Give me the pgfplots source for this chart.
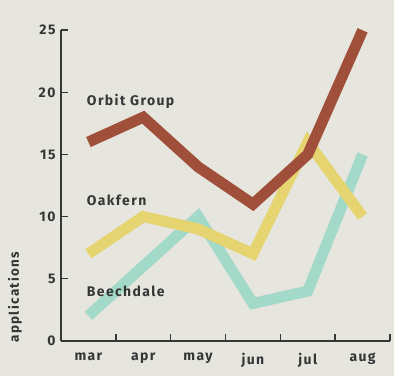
\documentclass[border=0pt]{standalone}
\usepackage{pgfplots}
\pgfplotsset{compat=1.18}
\usepackage{fontspec}
\setmainfont{Fira Sans}[LetterSpace=10]
\definecolor{bgc}{HTML}{E6E6DF}
\definecolor{txt}{HTML}{363636}
\definecolor{orbit}{HTML}{A0503A}
\definecolor{oak}{HTML}{E5D46F}
\definecolor{beech}{HTML}{A3D9C8}
\begin{document}
\begin{tikzpicture}
\fill[bgc] (-61bp,-35.3bp) rectangle (333bp,340.7bp);
\begin{axis}[
  name=ax,
  scale only axis,
  width=329bp, height=310.4bp,
  xmin=-0.5, xmax=5.5, ymin=0, ymax=25,
  clip=false,
  axis lines=left,
  axis line style={-, line width=2bp, color=txt},
  xtick={0,1,2,3,4,5},
  xticklabels={mar,apr,may,jun,jul,aug},
  minor xtick={0.5,1.5,2.5,3.5,4.5,5.5},
  ytick={0,5,10,15,20,25},
  major x tick style={draw=none},
  tick style={line width=1.6bp, color=txt},
  tick align=inside,
  major tick length=7bp,
  minor tick length=7bp,
  xticklabel style={font=\fontsize{14}{14}\selectfont\bfseries, text=txt, yshift=-9bp},
  yticklabel style={font=\fontsize{14}{14}\selectfont\bfseries, text=txt, xshift=-2bp},
  /pgf/number format/assume math mode=true,
  line join=miter, line cap=butt,
]
\addplot[beech, line width=11bp] coordinates {(0,2) (1,6) (2,10) (3,3) (4,4) (5,15)};
\addplot[oak, line width=11bp] coordinates {(0,7) (1,10) (2,9) (3,7) (4,16) (5,10)};
\addplot[orbit, line width=11bp] coordinates {(0,16) (1,18) (2,14) (3,11) (4,15) (5,25)};
\node[anchor=west, font=\fontsize{14}{14}\selectfont\bfseries, text=txt, inner sep=0pt] at (axis cs:-0.03,19.3) {Orbit Group};
\node[anchor=west, font=\fontsize{14}{14}\selectfont\bfseries, text=txt, inner sep=0pt] at (axis cs:-0.03,11.3) {Oakfern};
\node[anchor=west, font=\fontsize{14}{14}\selectfont\bfseries, text=txt, inner sep=0pt] at (axis cs:-0.03,4.0) {Beechdale};
\end{axis}
\node[rotate=90, anchor=west, font=\fontsize{13.5}{13.5}\selectfont\bfseries, text=txt, inner sep=0pt] at (-46bp,-2bp) {applications};
\pgfresetboundingbox
\path[use as bounding box] (-61bp,-35.3bp) rectangle (333bp,340.7bp);
\end{tikzpicture}
\end{document}
